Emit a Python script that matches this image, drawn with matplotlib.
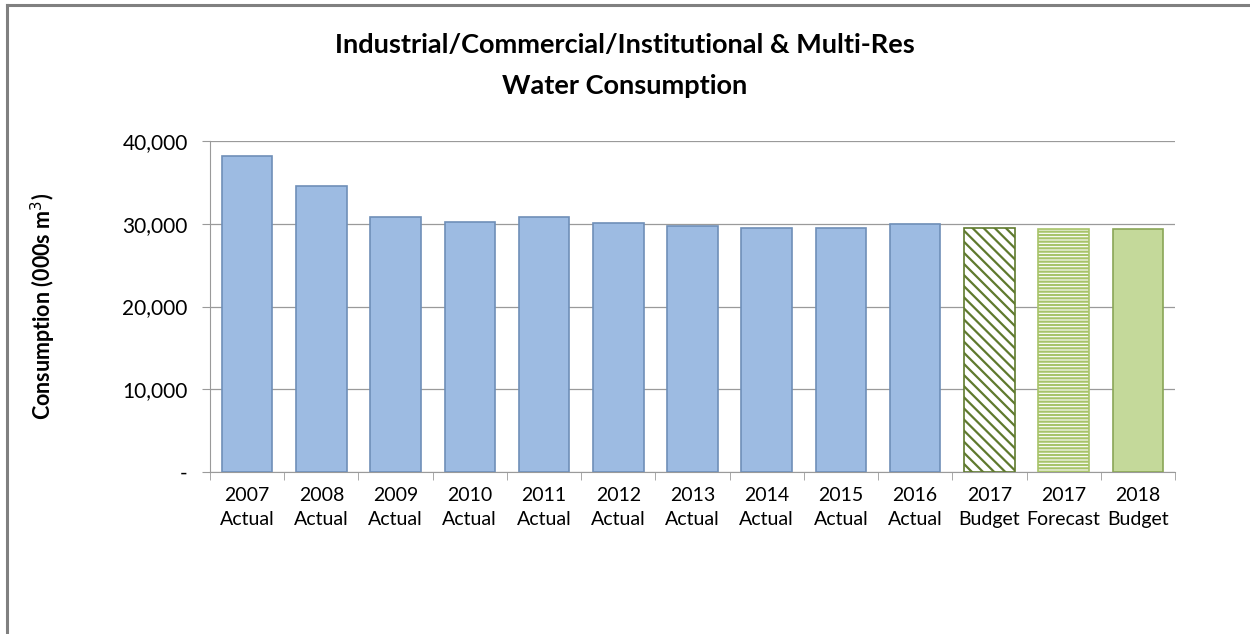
import matplotlib

matplotlib.use("Agg")
import matplotlib.pyplot as plt
from matplotlib.lines import Line2D
from matplotlib.ticker import FuncFormatter, MultipleLocator

years = ["2007", "2008", "2009", "2010", "2011", "2012", "2013",
         "2014", "2015", "2016", "2017", "2017", "2018"]
kinds = ["Actual"] * 10 + ["Budget", "Forecast", "Budget"]
consumption = [38200, 34600, 30800, 30200, 30800, 30100, 29700,
               29500, 29500, 30000, 29500, 29400, 29400]

BLUE, BLUE_EDGE = "#9dbbe2", "#6f8fb8"
GREEN_DARK, GREEN_LIGHT = "#5f7a2e", "#a8c46a"

plt.rcParams["font.family"] = ["Lato", "DejaVu Sans"]
plt.rcParams["hatch.linewidth"] = 1.6

fig = plt.figure(figsize=(12.5, 6.34), dpi=100)
ax = fig.add_axes([0.168, 0.2555, 0.772, 0.5221])

x = list(range(len(years)))
labels = [f"{y}\n{k}" for y, k in zip(years, kinds)]

for i, v in enumerate(consumption):
    if kinds[i] == "Actual":
        ax.bar(i, v, width=0.68, color=BLUE, edgecolor=BLUE_EDGE, lw=1.2, zorder=3)
    elif kinds[i] == "Forecast":
        plt.rcParams["hatch.color"] = GREEN_LIGHT
        ax.bar(i, v, width=0.68, color="white", edgecolor=GREEN_LIGHT,
               hatch="-----", lw=1.2, zorder=3)
    elif i == len(years) - 1:
        ax.bar(i, v, width=0.68, color="#c4d99a", edgecolor="#8aa656", lw=1.2, zorder=3)
    else:
        plt.rcParams["hatch.color"] = GREEN_DARK
        ax.bar(i, v, width=0.68, color="white", edgecolor=GREEN_DARK,
               hatch="\\\\\\", lw=1.2, zorder=3)

ax.set_xlim(-0.5, len(years) - 0.5)
ax.set_ylim(0, 40000)
ax.yaxis.set_major_locator(MultipleLocator(10000))
ax.yaxis.set_major_formatter(FuncFormatter(lambda v, _: "-" if v == 0 else f"{int(v):,}"))
ax.grid(axis="y", color="#9a9a9a", lw=0.9, zorder=0)

ax.set_xticks(x)
ax.set_xticklabels(labels, fontsize=14, linespacing=1.5)
ax.set_xticks([i + 0.5 for i in range(-1, len(years))], minor=True)
ax.tick_params(axis="x", which="major", length=0, pad=11)
ax.tick_params(axis="x", which="minor", length=6, color="#9a9a9a", direction="out")
ax.tick_params(axis="y", length=6, color="#9a9a9a", labelsize=15, pad=10)

for side in ("top", "right"):
    ax.spines[side].set_visible(False)
for side in ("left", "bottom"):
    ax.spines[side].set_color("#9a9a9a")

ax.set_ylabel("Consumption (000s m$^{3}$)", fontsize=15.5, fontweight="bold")
ax.yaxis.set_label_coords(-0.158, 0.5)

fig.text(0.5, 0.948, "Industrial/Commercial/Institutional & Multi-Res\nWater Consumption",
         ha="center", va="top", fontsize=19.5, fontweight="bold", linespacing=1.85)

# outer chart frame (only top and left edges fall inside the image)
fig.add_artist(Line2D([7 / 1250, 1.0], [1 - 5 / 634] * 2, color="#808080", lw=2.2))
fig.add_artist(Line2D([7 / 1250] * 2, [0.0, 1 - 5 / 634], color="#808080", lw=2.2))

fig.savefig("out.png", dpi=100)
